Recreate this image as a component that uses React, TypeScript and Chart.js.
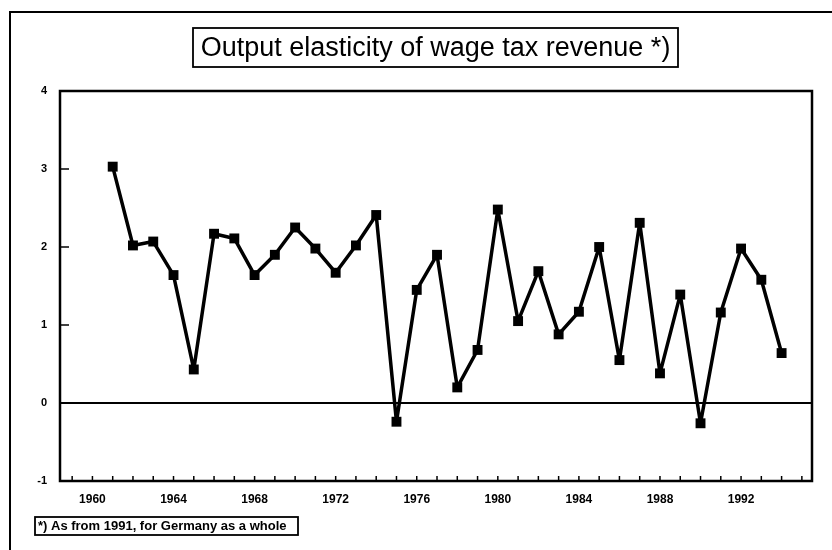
import React, { useEffect, useRef } from "react";
import { Chart, registerables } from "chart.js";

Chart.register(...registerables);

const years = [
  1961, 1962, 1963, 1964, 1965, 1966, 1967, 1968, 1969, 1970, 1971, 1972,
  1973, 1974, 1975, 1976, 1977, 1978, 1979, 1980, 1981, 1982, 1983, 1984,
  1985, 1986, 1987, 1988, 1989, 1990, 1991, 1992, 1993, 1994,
];
const elasticity = [
  3.03, 2.02, 2.07, 1.64, 0.43, 2.17, 2.11, 1.64, 1.9, 2.25, 1.98, 1.67,
  2.02, 2.41, -0.24, 1.45, 1.9, 0.2, 0.68, 2.48, 1.05, 1.69, 0.88, 1.17,
  2.0, 0.55, 2.31, 0.38, 1.39, -0.26, 1.16, 1.98, 1.58, 0.64,
];
const labeledYears = [1960, 1964, 1968, 1972, 1976, 1980, 1984, 1988, 1992];
const yTickValues = [-1, 0, 1, 2, 3, 4];
const titleText = "Output elasticity of wage tax revenue *)";
const footnoteText = "*) As from 1991, for Germany as a whole";

const FONT = "'Liberation Sans', Arial, Helvetica, sans-serif";

const decorPlugin = {
  id: "decor",
  beforeDatasetsDraw(chart: any) {
    const { ctx, chartArea: a, scales } = chart;
    const x = scales.x;
    const y = scales.y;
    ctx.save();
    ctx.strokeStyle = "#000";
    ctx.lineCap = "butt";
    // zero line
    const y0 = y.getPixelForValue(0);
    ctx.lineWidth = 2;
    ctx.beginPath();
    ctx.moveTo(a.left, y0);
    ctx.lineTo(a.right, y0);
    ctx.stroke();
    // inward y ticks
    ctx.lineWidth = 1.5;
    y.ticks.forEach((t: any) => {
      if (t.value <= y.min || t.value >= y.max || t.value === 0) return;
      const py = y.getPixelForValue(t.value);
      ctx.beginPath();
      ctx.moveTo(a.left, py);
      ctx.lineTo(a.left + 9, py);
      ctx.stroke();
    });
    // inward x ticks (every year)
    x.ticks.forEach((t: any) => {
      const px = x.getPixelForValue(t.value);
      ctx.beginPath();
      ctx.moveTo(px, a.bottom);
      ctx.lineTo(px, a.bottom - 5);
      ctx.stroke();
    });
    // plot frame
    ctx.lineWidth = 2.5;
    ctx.strokeRect(a.left, a.top, a.right - a.left, a.bottom - a.top);
    ctx.restore();
  },
  afterDraw(chart: any) {
    const { ctx } = chart;
    ctx.save();
    ctx.strokeStyle = "#000";
    ctx.fillStyle = "#000";
    // outer frame (top and left visible)
    ctx.lineWidth = 2;
    ctx.beginPath();
    ctx.moveTo(10, 560);
    ctx.lineTo(10, 12);
    ctx.lineTo(840, 12);
    ctx.stroke();
    // title box
    ctx.lineWidth = 1.8;
    ctx.strokeRect(193, 28, 485, 39);
    ctx.font = `27px ${FONT}`;
    ctx.textAlign = "center";
    ctx.textBaseline = "middle";
    ctx.fillText(titleText, 435.5, 48.5);
    // footnote box
    ctx.lineWidth = 1.8;
    ctx.strokeRect(35, 517, 263, 18);
    ctx.font = `bold 13px ${FONT}`;
    ctx.textAlign = "left";
    ctx.fillText(footnoteText, 38, 526.5);
    ctx.restore();
  },
};

export default function App() {
  const canvasRef = useRef<HTMLCanvasElement | null>(null);

  useEffect(() => {
    document.body.style.margin = "0";
    const canvas = canvasRef.current;
    if (!canvas) return;
    const chart = new Chart(canvas, {
      type: "line",
      data: {
        datasets: [
          {
            data: years.map((yr, i) => ({ x: yr, y: elasticity[i] })),
            borderColor: "#000",
            backgroundColor: "#000",
            borderWidth: 3.5,
            borderJoinStyle: "round",
            pointStyle: "rect",
            pointRadius: 7,
            pointBorderWidth: 0,
            pointBackgroundColor: "#000",
            tension: 0,
          },
        ],
      },
      options: {
        responsive: false,
        animation: false,
        events: [],
        layout: { padding: { top: 91, right: 20, left: 0, bottom: 0 } },
        plugins: {
          legend: { display: false },
          tooltip: { enabled: false },
          title: { display: false },
        },
        scales: {
          x: {
            type: "linear",
            min: 1958.4,
            max: 1995.5,
            border: { display: false },
            grid: { display: false, drawTicks: false },
            afterFit: (s: any) => {
              s.height = 69;
            },
            ticks: {
              stepSize: 1,
              includeBounds: false,
              autoSkip: false,
              maxRotation: 0,
              padding: 11,
              color: "#000",
              font: { family: FONT, size: 12, weight: "bold" },
              callback: (v: any) =>
                labeledYears.includes(Number(v)) ? String(v) : "",
            },
          },
          y: {
            type: "linear",
            min: -1,
            max: 4,
            border: { display: false },
            grid: { display: false, drawTicks: false },
            afterFit: (s: any) => {
              s.width = 60;
            },
            ticks: {
              stepSize: 1,
              padding: 13,
              color: "#000",
              font: { family: FONT, size: 11, weight: "bold" },
              callback: (v: any) =>
                yTickValues.includes(Number(v)) ? String(v) : "",
            },
          },
        },
      },
      plugins: [decorPlugin],
    });
    return () => chart.destroy();
  }, []);

  return (
    <div style={{ width: 832, height: 550 }}>
      <canvas ref={canvasRef} width={832} height={550} style={{ display: "block" }} />
    </div>
  );
}
